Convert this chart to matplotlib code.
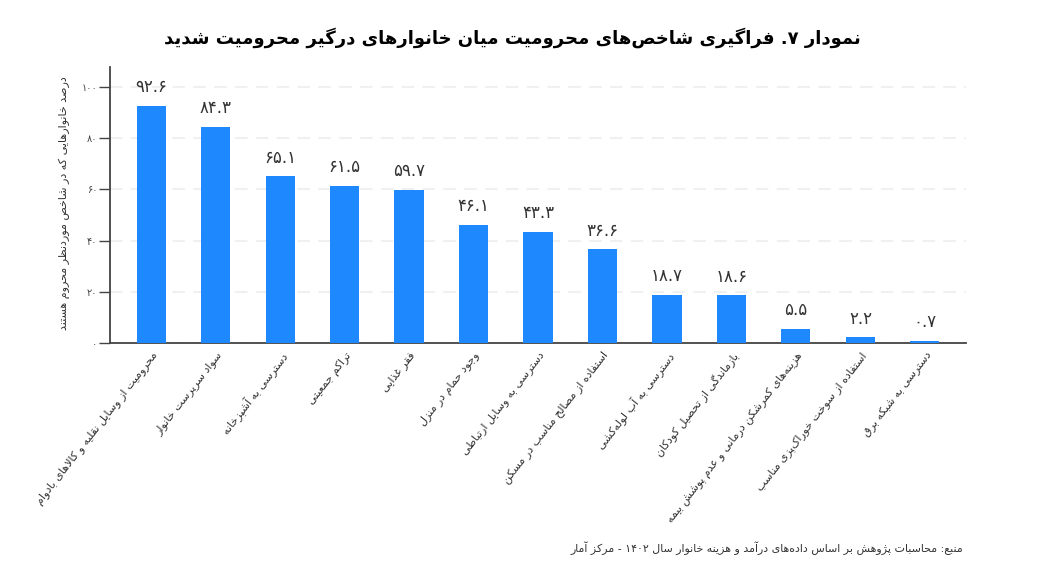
"""Deprivation indicators bar chart. matplotlib has no Arabic shaping, so shape() below
maps letters to presentation forms and reverses them for display."""
import re
import matplotlib
matplotlib.use("Agg")
import matplotlib.pyplot as plt

TITLE = "نمودار ۷. فراگیری شاخص‌های محرومیت میان خانوارهای درگیر محرومیت شدید"
YLABEL = "درصد خانوارهایی که در شاخص موردنظر محروم هستند"
SOURCE = "منبع: محاسبات پژوهش بر اساس داده‌های درآمد و هزینه خانوار سال ۱۴۰۲ - مرکز آمار"
categories = [
    "محرومیت از وسایل نقلیه و کالاهای بادوام",
    "سواد سرپرست خانوار",
    "دسترسی به آشپزخانه",
    "تراکم جمعیتی",
    "فقر غذایی",
    "وجود حمام در منزل",
    "دسترسی به وسایل ارتباطی",
    "استفاده از مصالح مناسب در مسکن",
    "دسترسی به آب لوله‌کشی",
    "بازماندگی از تحصیل کودکان",
    "هزینه‌های کمرشکن درمانی و عدم پوشش بیمه",
    "استفاده از سوخت خوراک‌پزی مناسب",
    "دسترسی به شبکه برق",
]
values = [92.6, 84.3, 65.1, 61.5, 59.7, 46.1, 43.3, 36.6, 18.7, 18.6, 5.5, 2.2, 0.7]
yticks = [0, 20, 40, 60, 80, 100]

# ---- Persian shaping ----
FOUR = {"ب": 0xFE8F, "پ": 0xFB56, "ت": 0xFE95, "ث": 0xFE99, "ج": 0xFE9D, "چ": 0xFB7A, "ح": 0xFEA1,
        "خ": 0xFEA5, "س": 0xFEB1, "ش": 0xFEB5, "ص": 0xFEB9, "ض": 0xFEBD, "ط": 0xFEC1, "ظ": 0xFEC5,
        "ع": 0xFEC9, "غ": 0xFECD, "ف": 0xFED1, "ق": 0xFED5, "ک": 0xFB8E, "گ": 0xFB92, "ل": 0xFEDD,
        "م": 0xFEE1, "ن": 0xFEE5, "ه": 0xFEE9, "ی": 0xFBFC}
TWO = {"ا": 0xFE8D, "آ": 0xFE81, "د": 0xFEA9, "ذ": 0xFEAB, "ر": 0xFEAD, "ز": 0xFEAF, "ژ": 0xFB8A, "و": 0xFEED}

def shape(text):
    text = text.replace("لا", "\uE000").replace("لآ", "\uE001")
    lam = {"\uE000": 0xFEFB, "\uE001": 0xFEF5}
    out = []
    for i, c in enumerate(text):
        prev = text[i-1] if i else ""
        nxt = text[i+1] if i+1 < len(text) else ""
        after_join = prev in FOUR
        before_join = nxt in FOUR or nxt in TWO or nxt in lam
        if c in lam:
            out.append(chr(lam[c] + (1 if after_join else 0)))
        elif c in TWO:
            out.append(chr(TWO[c] + (1 if after_join else 0)))
        elif c in FOUR:
            # iso, final, initial, medial
            idx = {(0, 0): 0, (1, 0): 1, (0, 1): 2, (1, 1): 3}[(int(after_join), int(before_join))]
            out.append(chr(FOUR[c] + idx))
        elif c != "\u200c":
            out.append(c)
    vis = "".join(out)[::-1]
    return re.sub(r"[۰-۹]+", lambda m: m.group(0)[::-1], vis)

def fa_digits(s):
    return str(s).translate(str.maketrans("0123456789", "۰۱۲۳۴۵۶۷۸۹"))

# ---- chart ----
W, H = 1038, 579
DARK = "#444444"
fig = plt.figure(figsize=(W/100, H/100), dpi=100, facecolor="white")
ax = fig.add_axes([110/W, 1-343/H, 856/W, 276/H])
x = list(range(len(values)))
bars = ax.bar(x, values, width=0.45, color="#1E88FF", zorder=3)
ax.set_xlim(-0.636, 12.636)
ax.set_ylim(0, 107.8)
ax.bar_label(bars, labels=[fa_digits(f"{v:.1f}") for v in values], padding=7, fontsize=12, color="#333333")

ax.set_yticks(yticks)
ax.set_yticklabels([fa_digits(t) for t in yticks], fontsize=7, color=DARK)
ax.set_xticks(x)
ax.set_xticklabels([shape(c) for c in categories], rotation=52, ha="right", va="top",
                   rotation_mode="anchor", fontsize=8, color="#333333")
ax.tick_params(axis="x", length=0, pad=5)
ax.tick_params(axis="y", length=8, width=1, color=DARK, pad=1)
ax.grid(axis="y", color="#f0f0f0", lw=1.5, ls=(0, (6, 4)), zorder=0)
ax.set_axisbelow(True)
for side in ("top", "right"):
    ax.spines[side].set_visible(False)
for side in ("left", "bottom"):
    ax.spines[side].set_color(DARK)
    ax.spines[side].set_linewidth(1.3)

fig.text(64/W, 1-203/H, shape(YLABEL), rotation=90, ha="center", va="center", fontsize=8, color="#333333")
fig.text(512/W, 1-38/H, shape(TITLE), ha="center", va="center", fontsize=13, fontweight="bold", color="black")
fig.text(963/W, 1-548/H, shape(SOURCE), ha="right", va="center", fontsize=7.9, color="#333333")

fig.savefig("out.png", dpi=100)
